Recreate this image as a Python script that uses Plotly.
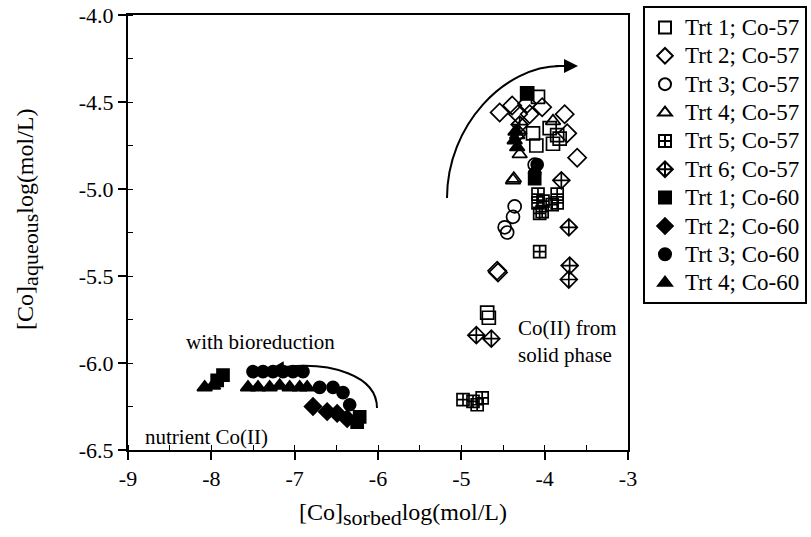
import plotly.graph_objects as go

FONT = "Liberation Serif"

# ---- data (log units) ----
t1_57_x = [-4.21, -4.08, -4.14, -4.10, -3.85, -3.82, -3.90, -3.94, -4.69, -4.67]
t1_57_y = [-4.45, -4.47, -4.68, -4.75, -4.69, -4.71, -4.74, -4.65, -5.71, -5.74]

t2_57_x = [-4.54, -4.39, -4.32, -4.18, -4.21, -4.03, -3.76, -3.73, -3.61, -4.57, -4.56]
t2_57_y = [-4.56, -4.52, -4.57, -4.57, -4.51, -4.53, -4.57, -4.68, -4.82, -5.47, -5.48]

t3_57_x = [-4.36, -4.38, -4.48, -4.45, -4.12]
t3_57_y = [-5.10, -5.16, -5.22, -5.25, -4.86]

t4_57_x = [-4.38, -4.37, -3.90, -4.30, -4.33]
t4_57_y = [-4.95, -4.94, -4.61, -4.80, -4.69]

t5_57_x = [-4.08, -4.02, -4.03, -3.85, -3.85, -3.91, -4.08, -4.06, -4.06, -4.98, -4.86, -4.75, -4.81]
t5_57_y = [-5.03, -5.07, -5.13, -5.03, -5.08, -5.09, -5.08, -5.14, -5.36, -6.21, -6.22, -6.20, -6.24]

t6_57_x = [-4.30, -4.32, -3.80, -3.71, -3.70, -3.71, -4.82, -4.64]
t6_57_y = [-4.63, -4.68, -4.95, -5.22, -5.44, -5.52, -5.84, -5.86]

t1_60_x = [-4.21, -4.12, -7.86, -7.93, -6.25, -6.22]
t1_60_y = [-4.45, -4.94, -6.07, -6.10, -6.34, -6.31]

t2_60_x = [-6.78, -6.61, -6.49, -6.37]
t2_60_y = [-6.25, -6.28, -6.29, -6.32]

t3_60_x = [-7.50, -7.38, -7.26, -7.14, -7.02, -6.90, -6.70, -6.54, -6.42, -6.34, -4.09, -4.12]
t3_60_y = [-6.05, -6.05, -6.05, -6.05, -6.05, -6.05, -6.14, -6.14, -6.17, -6.24, -4.86, -4.91]

t4_60_x = [-8.08, -7.98, -7.56, -7.44, -7.30, -7.18, -7.06, -6.94, -6.85, -4.36, -4.33, -4.35]
t4_60_y = [-6.14, -6.13, -6.14, -6.14, -6.14, -6.13, -6.14, -6.14, -6.14, -4.72, -4.76, -4.67]

x_tick_vals = [-9, -8, -7, -6, -5, -4, -3]
x_tick_text = ["-9", "-8", "-7", "-6", "-5", "-4", "-3"]
y_tick_vals = [-6.5, -6.0, -5.5, -5.0, -4.5, -4.0]
y_tick_text = ["-6.5", "-6.0", "-5.5", "-5.0", "-4.5", "-4.0"]

series = [
    ("Trt 1; Co-57", t1_57_x, t1_57_y, "square-open", 13),
    ("Trt 2; Co-57", t2_57_x, t2_57_y, "diamond-open", 14),
    ("Trt 3; Co-57", t3_57_x, t3_57_y, "circle-open", 13),
    ("Trt 4; Co-57", t4_57_x, t4_57_y, "triangle-up-open", 13),
    ("Trt 5; Co-57", t5_57_x, t5_57_y, "square-cross-open", 12),
    ("Trt 6; Co-57", t6_57_x, t6_57_y, "diamond-cross-open", 13),
    ("Trt 1; Co-60", t1_60_x, t1_60_y, "square", 12),
    ("Trt 2; Co-60", t2_60_x, t2_60_y, "diamond", 13),
    ("Trt 3; Co-60", t3_60_x, t3_60_y, "circle", 12),
    ("Trt 4; Co-60", t4_60_x, t4_60_y, "triangle-up", 13),
]

fig = go.Figure()
for i, (name, xs, ys, sym, sz) in enumerate(series):
    fig.add_trace(go.Scatter(
        x=xs, y=ys, mode="markers",
        name='<span style="font-size:23px">' + name + '</span>',
        marker=dict(symbol=sym, size=sz, color="black",
                    line=dict(color="black", width=1.7)),
    ))

# curved arrows (annotation geometry)
fig.add_shape(type="path", xref="x", yref="y",
              path="M -5.172,-5.052 C -5.172,-4.632 -4.476,-4.293 -3.816,-4.293",
              line=dict(color="black", width=2))
fig.add_shape(type="path", xref="x", yref="y",
              path="M -6.012,-6.259 C -6.012,-6.069 -6.576,-5.994 -7.116,-6.023",
              line=dict(color="black", width=2))

ann_font = dict(family=FONT, size=21, color="black")
title_font = dict(family=FONT, size=24, color="black")
annotations = [
    dict(x=-3.60, y=-4.293, xref="x", yref="y", ax=-24, ay=0, text="",
         showarrow=True, arrowhead=2, arrowsize=1.4, arrowwidth=2, arrowcolor="black"),
    dict(x=-7.296, y=-6.034, xref="x", yref="y", ax=22, ay=-1, text="",
         showarrow=True, arrowhead=2, arrowsize=1.4, arrowwidth=2, arrowcolor="black"),
    dict(x=-7.416, y=-5.879, xref="x", yref="y", text="with bioreduction",
         showarrow=False, font=ann_font),
    dict(x=-4.344, y=-5.879, xref="x", yref="y", text="Co(II) from<br>solid phase",
         showarrow=False, xanchor="left", align="left", font=ann_font),
    dict(x=-8.82, y=-6.425, xref="x", yref="y", text="nutrient Co(II)",
         showarrow=False, xanchor="left", font=ann_font),
    dict(x=0.55, y=-0.149, xref="paper", yref="paper", xanchor="center", yanchor="middle",
         text='[Co]<sub><span style="font-size:22px">sorbed</span></sub>log(mol/L)',
         showarrow=False, font=title_font),
    dict(x=-0.20, y=0.529, xref="paper", yref="paper", xanchor="center", yanchor="middle",
         textangle=-90,
         text='[Co]<sub><span style="font-size:22px">aqueous</span></sub>log(mol/L)',
         showarrow=False, font=title_font),
]

axis_common = dict(
    showgrid=False, zeroline=False, showline=True, linecolor="black", linewidth=2,
    mirror=True, ticks="outside", ticklen=8, tickwidth=1.5, tickcolor="black",
    tickfont=dict(family=FONT, size=22, color="black"),
)

fig.update_layout(
    width=811, height=537,
    margin=dict(l=128, r=183, t=15, b=87, autoexpand=False),
    paper_bgcolor="white", plot_bgcolor="white",
    xaxis=dict(range=[-9, -3], tickvals=x_tick_vals, ticktext=x_tick_text,
               minor=dict(dtick=0.5, tick0=-9, ticks="inside", ticklen=5, tickcolor="black", tickwidth=1.2),
               **axis_common),
    yaxis=dict(range=[-6.5, -4.0], tickvals=y_tick_vals, ticktext=y_tick_text,
               minor=dict(dtick=0.25, tick0=-6.5, ticks="inside", ticklen=5, tickcolor="black", tickwidth=1.2),
               **axis_common),
    legend=dict(x=1.03, xanchor="left", y=1.02, yanchor="top",
                maxheight=600, itemsizing="constant",
                font=dict(family=FONT, size=19.5, color="black"),
                bordercolor="black", borderwidth=2, bgcolor="white"),
    annotations=annotations,
    showlegend=True,
)

fig.write_html("out.html")
